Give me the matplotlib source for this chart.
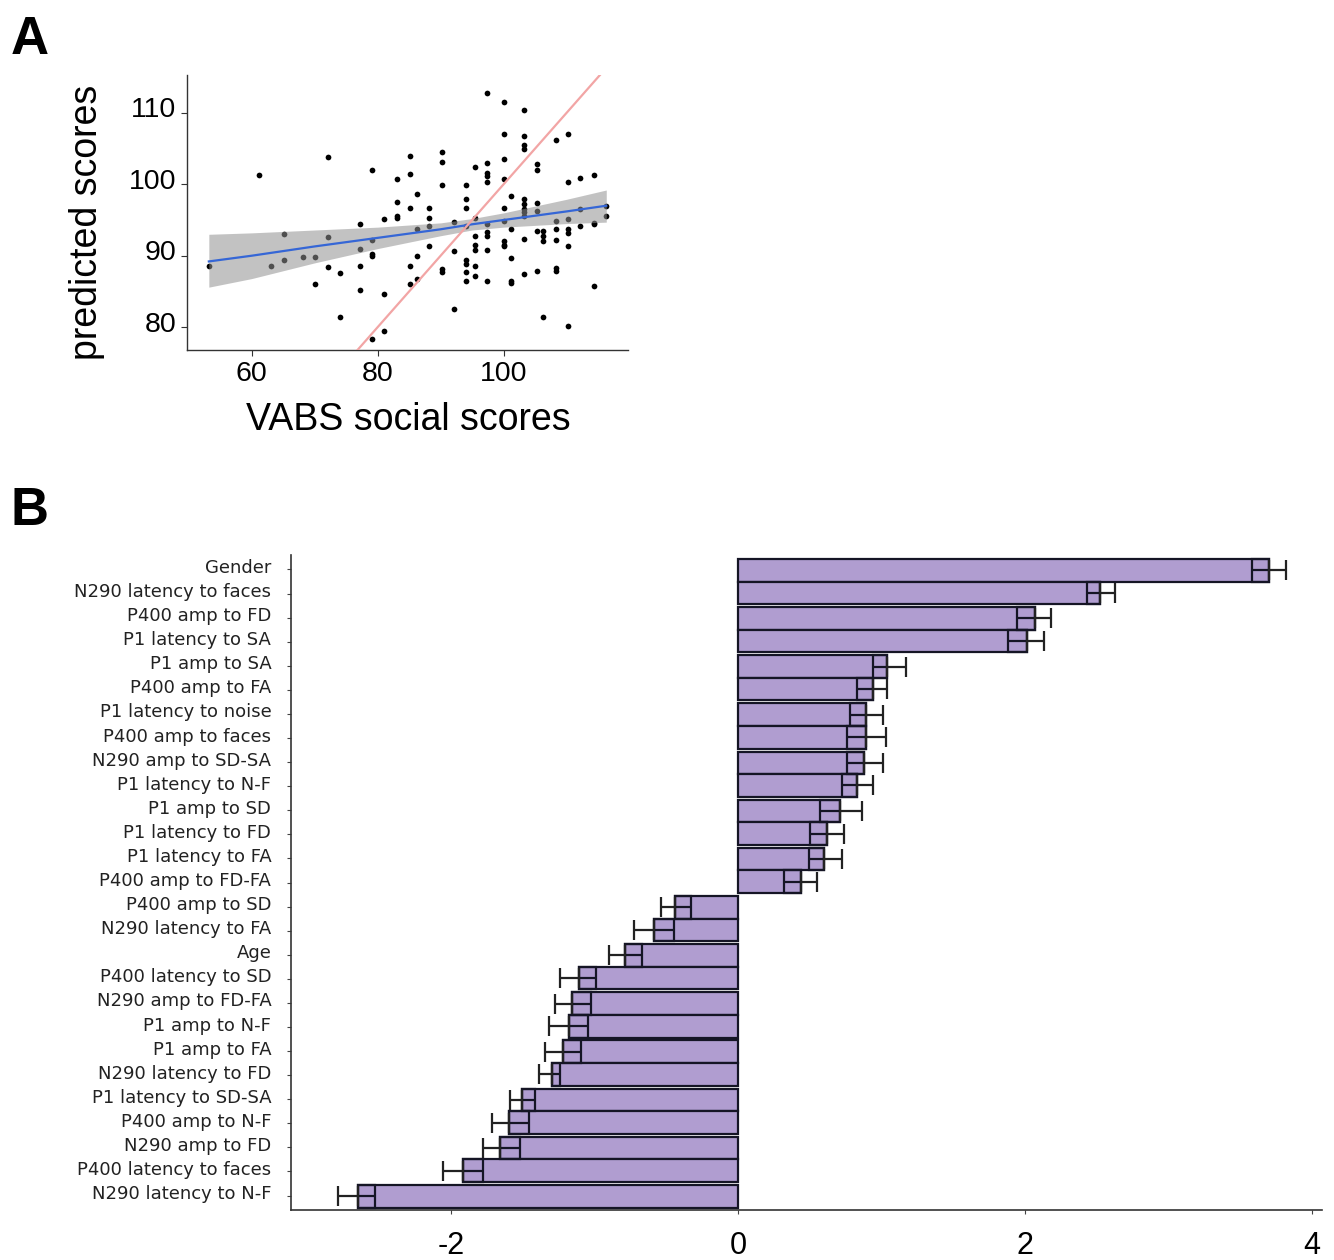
import numpy as np
import matplotlib
matplotlib.use("Agg")
import matplotlib.pyplot as plt
import matplotlib.transforms as mtransforms

plt.rcParams['font.family'] = ['Liberation Sans', 'DejaVu Sans']

# ---------------- Panel A data ----------------
vabs_x = [53.2, 61.1, 63.1, 65.1, 65.1, 68.2, 70.1, 70.1, 72.1, 72.1, 72.1, 74.0, 74.0,
          77.2, 77.2, 77.2, 77.2, 79.1, 79.1, 79.1, 79.1, 79.1, 81.0, 81.0, 81.0,
          83.0, 83.0, 83.0, 83.0, 85.1, 85.1, 85.1, 85.1, 85.1, 86.2, 86.2, 86.2, 86.2,
          88.2, 88.2, 88.2, 88.2, 90.2, 90.2, 90.2, 90.2, 90.2, 92.2, 92.2, 92.2,
          94.1, 94.1, 94.1, 94.1, 94.1, 94.1, 94.1, 94.1,
          95.4, 95.4, 95.4, 95.4, 95.4, 95.4, 95.4,
          97.3, 97.3, 97.3, 97.3, 97.3, 97.3, 97.3, 97.3, 97.3, 97.3,
          100.1, 100.1, 100.1, 100.1, 100.1, 100.1, 100.1, 100.1, 100.1,
          101.1, 101.1, 101.1, 101.1, 101.1,
          103.2, 103.2, 103.2, 103.2, 103.2, 103.2, 103.2, 103.2, 103.2, 103.2, 103.2,
          105.3, 105.3, 105.3, 105.3, 105.3, 105.3,
          106.3, 106.3, 106.3, 106.3,
          108.3, 108.3, 108.3, 108.3, 108.3, 108.3,
          110.2, 110.2, 110.2, 110.2, 110.2, 110.2, 110.2,
          112.2, 112.2, 112.2, 114.3, 114.3, 114.3, 114.3, 116.3, 116.3]
pred_y = [88.6, 101.3, 88.5, 93.1, 89.4, 89.8, 89.8, 86.1, 103.8, 92.6, 88.4, 87.6, 81.4,
          94.4, 90.9, 88.5, 85.2, 102.0, 92.2, 90.3, 90.0, 78.3, 95.1, 84.7, 79.5,
          100.8, 97.5, 95.5, 95.3, 104.0, 101.5, 96.7, 88.6, 86.1, 98.6, 93.7, 90.0, 86.8,
          96.7, 95.3, 94.1, 91.3, 104.5, 103.1, 99.9, 88.1, 87.7, 94.7, 90.7, 82.6,
          99.9, 98.0, 96.7, 94.1, 89.4, 88.9, 87.7, 86.5,
          102.4, 95.3, 92.8, 91.5, 90.8, 88.5, 87.1,
          103.0, 101.6, 101.2, 100.3, 112.8, 94.5, 93.3, 92.7, 90.8, 86.4,
          111.5, 107.1, 103.6, 100.8, 96.7, 94.8, 92.0, 91.5, 91.3,
          98.4, 93.7, 89.7, 86.4, 86.2,
          110.4, 106.8, 105.5, 104.9, 97.9, 97.3, 96.5, 96.1, 95.5, 92.3, 87.4,
          102.9, 102.0, 97.4, 96.3, 93.5, 87.9,
          93.5, 92.8, 92.1, 81.4,
          106.2, 94.9, 93.7, 92.2, 88.3, 87.8,
          107.0, 100.3, 95.1, 93.8, 93.2, 91.4, 80.1,
          100.9, 96.5, 94.2, 101.3, 94.6, 94.4, 85.7, 97.0, 95.6]

# fitted line and confidence band
fit_x = [53.2, 60, 70, 80, 90, 95, 100, 110, 116.3]
fit_y = [89.2, 90.0, 91.3, 92.5, 93.7, 94.4, 95.0, 96.2, 97.0]
band_lo = [85.6, 86.8, 89.0, 91.0, 92.8, 93.6, 94.0, 94.5, 94.7]
band_hi = [93.0, 93.2, 93.6, 94.0, 94.6, 95.2, 96.0, 97.9, 99.2]
identity_x = [76.8, 115.3]
identity_y = [76.8, 115.3]

xticks_a = [60, 80, 100]
yticks_a = [80, 90, 100, 110]

# ---------------- Panel B data ----------------
features = ["Gender", "N290 latency to faces", "P400 amp to FD", "P1 latency to SA",
            "P1 amp to SA", "P400 amp to FA", "P1 latency to noise", "P400 amp to faces",
            "N290 amp to SD-SA", "P1 latency to N-F", "P1 amp to SD", "P1 latency to FD",
            "P1 latency to FA", "P400 amp to FD-FA", "P400 amp to SD", "N290 latency to FA",
            "Age", "P400 latency to SD", "N290 amp to FD-FA", "P1 amp to N-F",
            "P1 amp to FA", "N290 latency to FD", "P1 latency to SD-SA", "P400 amp to N-F",
            "N290 amp to FD", "P400 latency to faces", "N290 latency to N-F"]
importance = [3.70, 2.52, 2.07, 2.01, 1.04, 0.94, 0.89, 0.89, 0.88, 0.83, 0.71, 0.62,
              0.60, 0.44, -0.44, -0.59, -0.79, -1.11, -1.16, -1.18, -1.22, -1.30,
              -1.51, -1.60, -1.66, -1.92, -2.65]
inner_edge = [3.58, 2.43, 1.94, 1.88, 0.94, 0.83, 0.78, 0.76, 0.76, 0.72, 0.57, 0.50,
              0.49, 0.32, -0.33, -0.45, -0.67, -0.99, -1.03, -1.05, -1.10, -1.24,
              -1.42, -1.46, -1.52, -1.78, -2.53]
whisker_end = [3.82, 2.63, 2.18, 2.13, 1.17, 1.04, 1.01, 1.03, 1.01, 0.94, 0.86, 0.74,
               0.72, 0.55, -0.54, -0.73, -0.90, -1.24, -1.28, -1.32, -1.35, -1.39,
               -1.59, -1.72, -1.78, -2.06, -2.79]
xticks_b = [-2, 0, 2, 4]

# ---------------- Figure ----------------
fig = plt.figure(figsize=(13.34, 12.6), dpi=100)
fig.patch.set_facecolor('white')

# Panel A
axA = fig.add_axes([0.1405, 0.7222, 0.3305, 0.2183])
axA.scatter(vabs_x, pred_y, s=17, color='black', zorder=2, linewidths=0)
axA.fill_between(fit_x, band_lo, band_hi, color='#919191', alpha=0.55, linewidth=0, zorder=3)
axA.plot(fit_x, fit_y, color='#3566d6', lw=1.6, zorder=4)
axA.plot(identity_x, identity_y, color='#f2a5a5', lw=1.6, zorder=4)
axA.set_xlim(49.8, 119.8)
axA.set_ylim(76.8, 115.3)
axA.set_xticks(xticks_a)
axA.set_yticks(yticks_a)
for s in ['top', 'right']:
    axA.spines[s].set_visible(False)
for s in ['left', 'bottom']:
    axA.spines[s].set_color('#333333')
    axA.spines[s].set_linewidth(1.0)
axA.tick_params(axis='both', labelsize=20.5, length=4, width=0.8, color='#333333', pad=4)
axA.set_xlabel('VABS social scores', fontsize=27, labelpad=11)
axA.set_ylabel('predicted scores', fontsize=27)
axA.yaxis.set_label_coords(-0.186, 0.465)
offA = mtransforms.ScaledTranslation(0, 4 / 72, fig.dpi_scale_trans)
for lab in axA.get_yticklabels():
    lab.set_transform(lab.get_transform() + offA)

fig.text(0.008, 0.988, 'A', fontsize=38, fontweight='bold', va='top', ha='left')
fig.text(0.008, 0.614, 'B', fontsize=38, fontweight='bold', va='top', ha='left')

# Panel B
axB = fig.add_axes([0.218, 0.0397, 0.773, 0.5198])
n = len(features)
ypos = np.arange(n)
h = 0.94
offs = np.array([0.03 if i % 2 == 0 else -0.03 for i in range(n)])
yc = ypos + offs
bar_col = '#b09dd0'
edge_col = '#151525'
axB.barh(yc, importance, height=h, color=bar_col, edgecolor=edge_col, linewidth=1.6, zorder=2)
imp = np.array(importance)
inn = np.array(inner_edge)
wh = np.array(whisker_end)
# inner boxes
axB.barh(yc, imp - inn, left=inn, height=h, color='none', edgecolor=edge_col,
         linewidth=1.6, zorder=3)
axB.hlines(yc, np.minimum(inn, imp), np.maximum(inn, imp), color=edge_col, lw=1.6, zorder=3)
# whiskers (outward)
pos = imp >= 0
xerr = np.vstack([np.where(pos, 0, imp - wh), np.where(pos, wh - imp, 0)])
axB.errorbar(imp, yc, xerr=xerr, fmt='none', ecolor='#222222', elinewidth=1.6,
             capsize=7, capthick=1.6, zorder=4)
axB.set_ylim(n - 0.4, -0.6)
axB.set_xlim(-3.12, 4.07)
axB.set_yticks(ypos)
axB.set_yticklabels(features, family=['DejaVu Sans'])
axB.set_xticks(xticks_b)
axB.set_xticklabels([str(t) if t >= 0 else '-' + str(-t) for t in xticks_b])
for s in ['top', 'right']:
    axB.spines[s].set_visible(False)
for s in ['left', 'bottom']:
    axB.spines[s].set_color('#333333')
    axB.spines[s].set_linewidth(1.2)
axB.tick_params(axis='y', labelsize=13, length=3, width=0.8, color='#444444', pad=11,
                labelcolor='#222222')
axB.tick_params(axis='x', labelsize=22, length=3, width=0.8, color='#444444', pad=12)
offB = mtransforms.ScaledTranslation(0, 2.5 / 72, fig.dpi_scale_trans)
for lab in axB.get_yticklabels():
    lab.set_transform(lab.get_transform() + offB)

fig.savefig('out.png', dpi=100, facecolor='white')
